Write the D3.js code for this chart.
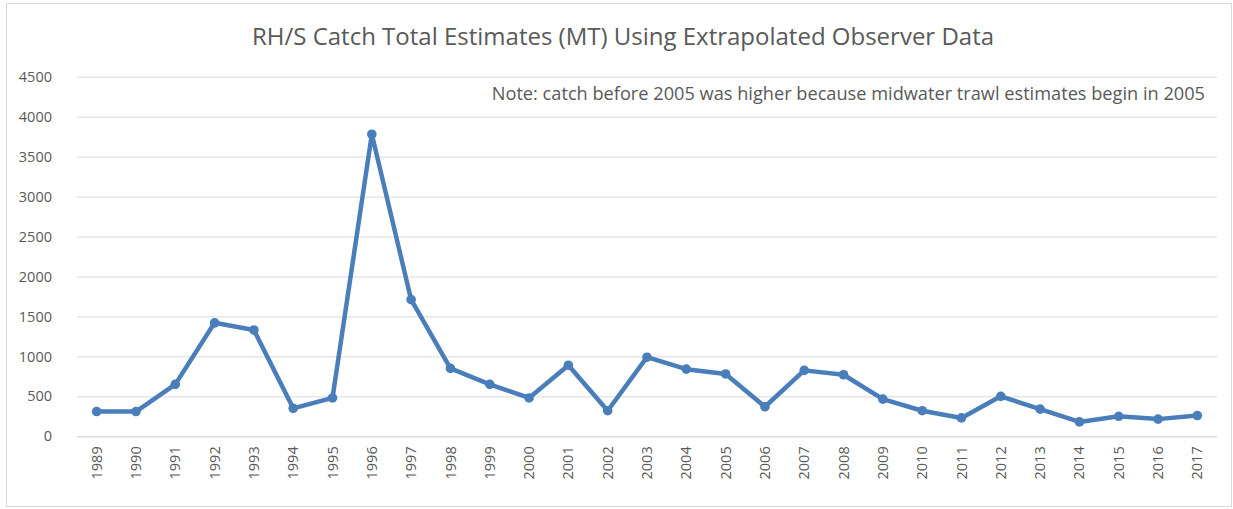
<!DOCTYPE html>
<html>
<head>
<meta charset="utf-8">
<script src="https://cdn.jsdelivr.net/npm/d3@7"></script>
<style>
  html, body { margin: 0; padding: 0; background: #fff; }
  svg text { font-family: "Open Sans", "Noto Sans", sans-serif; fill: #595959; }
</style>
</head>
<body>
<svg id="chart" width="1233" height="509"></svg>
<script>
// Catch totals per year (MT)
const years = ["1989","1990","1991","1992","1993","1994","1995","1996","1997","1998",
  "1999","2000","2001","2002","2003","2004","2005","2006","2007","2008",
  "2009","2010","2011","2012","2013","2014","2015","2016","2017"];
const catchTotals = [310, 310, 650, 1420, 1330, 350, 480, 3780, 1710, 850,
  650, 480, 890, 320, 990, 840, 780, 370, 825, 770,
  465, 320, 230, 500, 340, 180, 250, 215, 260];
const yTicks = [0, 500, 1000, 1500, 2000, 2500, 3000, 3500, 4000, 4500];
const titleText = "RH/S Catch Total Estimates (MT) Using Extrapolated Observer Data";
const noteText = "Note: catch before 2005 was higher because midwater trawl estimates begin in 2005";

const svg = d3.select("#chart");
const plot = { left: 77, right: 1217, top: 76.7, bottom: 436.3 };
const lineColor = "#4A7EBB";

// outer chart frame
svg.append("rect")
  .attr("x", 6.5).attr("y", 3.5)
  .attr("width", 1225).attr("height", 503)
  .attr("fill", "#fff").attr("stroke", "#d9d9d9").attr("stroke-width", 1);

const x = d3.scaleBand().domain(years).range([plot.left, plot.right]).padding(0);
const y = d3.scaleLinear().domain([0, 4500]).range([plot.bottom, plot.top]);

// horizontal gridlines + y labels
const yAxis = d3.axisLeft(y).tickValues(yTicks).tickFormat(d3.format("d"))
  .tickSize(-(plot.right - plot.left)).tickPadding(10);
const gy = svg.append("g").attr("transform", `translate(${plot.left},0)`).call(yAxis);
gy.select(".domain").remove();
gy.selectAll(".tick line").attr("stroke", "#d9d9d9").attr("stroke-width", 1);
gy.selectAll(".tick text").attr("font-size", 14.5).attr("x", -25);

// x axis labels, rotated
const xAxis = d3.axisBottom(x).tickSize(0).tickPadding(0);
const gx = svg.append("g").attr("transform", `translate(0,${plot.bottom})`).call(xAxis);
gx.select(".domain").attr("stroke", "#d9d9d9");
gx.selectAll(".tick text")
  .attr("font-size", 14.5)
  .attr("transform", "rotate(-90)")
  .attr("text-anchor", "end")
  .attr("x", -10).attr("y", 0).attr("dy", "0.35em");

// series line
const cx = d => x(d) + x.bandwidth() / 2;
const data = years.map((yr, i) => ({ yr, v: catchTotals[i] }));
svg.append("path")
  .datum(data)
  .attr("fill", "none")
  .attr("stroke", lineColor)
  .attr("stroke-width", 4.5)
  .attr("stroke-linejoin", "round")
  .attr("d", d3.line().x(d => cx(d.yr)).y(d => y(d.v)));

svg.append("g").selectAll("circle")
  .data(data).join("circle")
  .attr("cx", d => cx(d.yr)).attr("cy", d => y(d.v))
  .attr("r", 4.8).attr("fill", lineColor);

// title and note
svg.append("text")
  .attr("x", 623).attr("y", 45)
  .attr("text-anchor", "middle")
  .attr("font-size", 24)
  .text(titleText);

svg.append("text")
  .attr("x", 1205).attr("y", 99.5)
  .attr("text-anchor", "end")
  .attr("font-size", 18.2)
  .text(noteText);
</script>
</body>
</html>
